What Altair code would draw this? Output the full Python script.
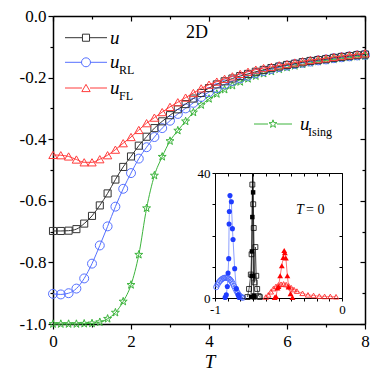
import altair as alt
import pandas as pd

# ---------------- main panel data ----------------
T = [0.0, 0.2, 0.4, 0.6, 0.8, 1.0, 1.2, 1.4, 1.6, 1.8, 2.0, 2.2, 2.4, 2.6, 2.8, 3.0,
     3.2, 3.4, 3.6, 3.8, 4.0, 4.2, 4.4, 4.6, 4.8, 5.0, 5.2, 5.4, 5.6, 5.8, 6.0, 6.2,
     6.4, 6.6, 6.8, 7.0, 7.2, 7.4, 7.6, 7.8, 8.0]
u = [-0.698, -0.698, -0.697, -0.692, -0.674, -0.649, -0.615, -0.576, -0.531, -0.490,
     -0.456, -0.421, -0.392, -0.364, -0.342, -0.322, -0.303, -0.286, -0.268, -0.250,
     -0.234, -0.222, -0.212, -0.203, -0.195, -0.188, -0.181, -0.175, -0.169, -0.164,
     -0.159, -0.155, -0.150, -0.146, -0.143, -0.140, -0.136, -0.133, -0.130, -0.127, -0.125]
u_RL = [-0.902, -0.904, -0.900, -0.885, -0.852, -0.804, -0.745, -0.683, -0.619, -0.561,
        -0.510, -0.463, -0.426, -0.393, -0.364, -0.340, -0.318, -0.300, -0.282, -0.263,
        -0.247, -0.234, -0.222, -0.211, -0.202, -0.194, -0.186, -0.179, -0.172, -0.166,
        -0.161, -0.156, -0.152, -0.148, -0.144, -0.141, -0.137, -0.134, -0.131, -0.128, -0.126]
u_FL = [-0.451, -0.452, -0.456, -0.466, -0.475, -0.475, -0.465, -0.452, -0.434, -0.413,
        -0.393, -0.370, -0.348, -0.330, -0.312, -0.295, -0.280, -0.265, -0.250, -0.235,
        -0.223, -0.213, -0.204, -0.196, -0.188, -0.181, -0.174, -0.169, -0.165, -0.160,
        -0.156, -0.151, -0.147, -0.143, -0.140, -0.137, -0.133, -0.130, -0.127, -0.124, -0.121]
u_Ising = [-1.000, -1.000, -1.000, -1.000, -0.999, -0.998, -0.994, -0.983, -0.963, -0.927,
           -0.873, -0.775, -0.624, -0.518, -0.457, -0.406, -0.372, -0.342, -0.313, -0.289,
           -0.269, -0.253, -0.239, -0.226, -0.214, -0.204, -0.195, -0.187, -0.180, -0.173,
           -0.167, -0.162, -0.157, -0.152, -0.148, -0.144, -0.141, -0.138, -0.135, -0.132, -0.130]

x_ticks = [0, 1, 2, 3, 4, 5, 6, 7, 8]
y_ticks = [-1.0, -0.9, -0.8, -0.7, -0.6, -0.5, -0.4, -0.3, -0.2, -0.1, 0.0]

# ---------------- inset data (P(u) at T = 0) ----------------
bf_x = [-0.92, -0.911, -0.903, -0.897, -0.892, -0.889, -0.887, -0.882, -0.871, -0.863,
        -0.858, -0.845, -0.832, -0.818, -0.81]
bf_y = [0.2, 1.0, 3.7, 8.0, 12.6, 23.7, 27.7, 32.8, 30.8, 22.2, 18.7, 9.4, 3.0, 1.0, 0.2]
bo_x = [-0.99, -0.98, -0.97, -0.96, -0.95, -0.94, -0.93, -0.92, -0.91, -0.90, -0.89,
        -0.88, -0.87, -0.86, -0.85, -0.84, -0.83, -0.82, -0.81, -0.80, -0.79, -0.78]
bo_y = [3.5, 4.3, 5.0, 5.5, 5.9, 6.2, 6.4, 6.5, 6.5, 6.4, 6.2, 5.8, 5.3, 4.6, 3.8, 3.0,
        2.2, 1.5, 0.9, 0.5, 0.2, 0.1]
kf_x = [-0.716, -0.712, -0.709, -0.706, -0.703, -0.700, -0.697, -0.694, -0.690]
kf_y = [0.3, 7.1, 14.9, 25.9, 60.0, 33.8, 7.0, 0.8, 0.2]
ko_x = [-0.745, -0.732, -0.718, -0.712, -0.706, -0.703, -0.699, -0.695, -0.688, -0.682,
        -0.675, -0.668, -0.656, -0.647]
ko_y = [0.3, 2.9, 7.5, 14.0, 36.3, 52.0, 30.0, 22.4, 5.0, 16.3, 7.1, 2.9, 0.6, 0.3]
rf_x = [-0.53, -0.519, -0.508, -0.5, -0.487, -0.474, -0.462, -0.455, -0.45, -0.442,
        -0.43, -0.42, -0.405, -0.39]
rf_y = [0.2, 0.5, 3.2, 3.7, 7.1, 10.3, 13.0, 15.2, 14.5, 12.8, 7.1, 3.5, 1.4, 0.2]
ro_x = [-0.60, -0.58, -0.56, -0.54, -0.52, -0.50, -0.48, -0.46, -0.44, -0.42, -0.40,
        -0.378, -0.355, -0.311, -0.268, -0.224, -0.179, -0.137, -0.092, -0.047]
ro_y = [0.3, 1.0, 2.0, 3.0, 3.7, 4.2, 4.4, 4.5, 4.3, 3.9, 3.3, 2.7, 2.2, 1.5, 1.0, 0.8,
        0.6, 0.5, 0.5, 0.4]
ix_ticks = [-1.0, -0.9, -0.8, -0.7, -0.6, -0.5, -0.4, -0.3, -0.2, -0.1, 0.0]
iy_ticks = [0, 10, 20, 30, 40]

# ---------------- layout / style ----------------
W, H = 312, 308
IX0, IX1, IY0, IY1 = 162, 289, 157, 282
SERIF = "Liberation Serif, Times New Roman, serif"
STAR = ("M0,-1L0.235,-0.324L0.951,-0.309L0.380,0.124L0.588,0.809L0,0.4"
        "L-0.588,0.809L-0.380,0.124L-0.951,-0.309L-0.235,-0.324Z")

xs = alt.Scale(domain=[0, 8], nice=False, zero=False)
ys = alt.Scale(domain=[-1, 0], nice=False, zero=False)
ixs = alt.Scale(domain=[-1, 0], range=[IX0, IX1], nice=False, zero=False)
iys = alt.Scale(domain=[0, 40], range=[IY1, IY0], nice=False, zero=False, clamp=True)

XT = "datum.value % 2 == 0"
YT = "abs(round(datum.value * 10)) % 2 == 0"


def axis(**kw):
    base = dict(grid=False, title=None, domainColor="black", tickColor="black",
                labelColor="black", labelFont=SERIF, labelOverlap=False, labelFlush=False)
    base.update(kw)
    return alt.Axis(**base)


def main_x(labels=True, offset=0):
    return axis(orient="bottom", offset=offset, values=x_ticks, labels=labels,
                labelExpr=f"{XT} ? '' + datum.value : ''", labelFontSize=17, labelPadding=4,
                tickSize={"condition": {"test": XT, "value": 5}, "value": 3},
                domainWidth=1.5, tickWidth=1.2)


def main_y(labels=True, offset=0):
    return axis(orient="left", offset=offset, values=y_ticks, labels=labels,
                labelExpr=f"{YT} ? ((datum.value < 0 ? '-' : '') + format(abs(datum.value), '.1f')) : ''",
                labelFontSize=17, labelPadding=2,
                tickSize={"condition": {"test": YT, "value": 5}, "value": 3},
                domainWidth=1.5, tickWidth=1.2)


def in_x(labels=True, offset=0):
    return axis(orient="bottom", offset=offset, values=ix_ticks, labels=labels,
                labelExpr="datum.value == -1 ? '-1' : (datum.value == 0 ? '0' : '')",
                labelFontSize=13, labelPadding=2, tickSize=3, domainWidth=1, tickWidth=1)


def in_y(labels=True, offset=0):
    return axis(orient="left", offset=offset, values=iy_ticks, labels=labels,
                labelExpr="datum.value == 0 || datum.value == 40 ? '' + datum.value : ''",
                labelFontSize=13, labelPadding=2, tickSize=3, domainWidth=1, tickWidth=1)


MX, MY = main_x(), main_y()
IXA, IYA = in_x(offset=IY1 - H), in_y(offset=-IX0)

one = pd.DataFrame({"a": [0]})

# ---------------- main group ----------------
series = [
    (u_Ising, "#3cb43c", STAR, 70),
    (u_RL, "#5570ff", "circle", 80),
    (u, "#333333", "square", 50),
    (u_FL, "#ff3c3c", "triangle-up", 70),
]
main_layers = []
for vals, col, shp, sz in series:
    df = pd.DataFrame({"T": T, "v": vals})
    enc = dict(x=alt.X("T:Q", scale=xs, axis=MX), y=alt.Y("v:Q", scale=ys, axis=MY))
    main_layers.append(alt.Chart(df).mark_line(color=col, strokeWidth=1, interpolate="monotone").encode(**enc))
    main_layers.append(alt.Chart(df).mark_point(shape=shp, size=sz, filled=False, color=col,
                                                strokeWidth=1, opacity=1).encode(**enc))

# legend entries (annotation positions in pixels)
legend = [
    (21.7, "#333333", "square", 50, "", 12, 29, 37, 54, 33, 57, 66),
    (46.3, "#5570ff", "circle", 80, "RL", 12, 29, 37, 54, 33, 57, 66),
    (72.0, "#ff3c3c", "triangle-up", 70, "FL", 12, 29, 37, 54, 33, 57, 66),
    (108.0, "#3cb43c", STAR, 70, "Ising", 201, 215, 224, 239, 220, 247, 255),
]
for ly, col, shp, sz, sub, a0, a1, b0, b1, mx, tx, sx in legend:
    for s0, s1 in ((a0, a1), (b0, b1)):
        main_layers.append(alt.Chart(one).mark_rule(color=col, strokeWidth=1).encode(
            x=alt.value(s0), x2=alt.value(s1), y=alt.value(ly)))
    main_layers.append(alt.Chart(one).mark_point(shape=shp, size=sz, filled=False, color=col,
                                                 strokeWidth=1, opacity=1).encode(
        x=alt.value(mx), y=alt.value(ly)))
    main_layers.append(alt.Chart(one).mark_text(text="u", font=SERIF, fontStyle="italic", fontSize=19,
                                                align="left", baseline="alphabetic", color="black").encode(
        x=alt.value(tx), y=alt.value(ly + 6)))
    if sub:
        main_layers.append(alt.Chart(one).mark_text(text=sub, font=SERIF, fontSize=12, align="left",
                                                    baseline="alphabetic", color="black").encode(
            x=alt.value(sx), y=alt.value(ly + 12)))

main_layers.append(alt.Chart(one).mark_text(text="2D", font=SERIF, fontSize=18, align="center",
                                            baseline="alphabetic", color="black").encode(
    x=alt.value(144), y=alt.value(22)))
main_layers.append(alt.Chart(one).mark_text(text="T", font=SERIF, fontStyle="italic", fontSize=19,
                                            align="center", baseline="middle", color="black").encode(
    x=alt.value(157), y=alt.value(346)))

main_group = alt.layer(*main_layers)

mirror_df = pd.DataFrame({"T": [0, 8], "v": [-1, 0]})
main_mirror = alt.Chart(mirror_df).mark_point(opacity=0).encode(
    x=alt.X("T:Q", scale=xs, axis=main_x(labels=False, offset=-H)),
    y=alt.Y("v:Q", scale=ys, axis=main_y(labels=False, offset=-W)))

# ---------------- inset group ----------------
inset_series = [
    (bo_x, bo_y, "#6f86ff", "#4a66ff", "circle", 28, False),
    (bf_x, bf_y, "#6f86ff", "#1f3cff", "circle", 26, True),
    (ro_x, ro_y, "#ff7070", "#ff2a2a", "triangle-up", 28, False),
    (rf_x, rf_y, "#ff5050", "#ff0000", "triangle-up", 34, True),
    (ko_x, ko_y, "#333333", "#222222", "square", 24, False),
    (kf_x, kf_y, "#000000", "#000000", "square", 20, True),
]
inset_layers = []
for xv, yv, lc, mc, shp, sz, fil in inset_series:
    df = pd.DataFrame({"x": xv, "y": yv})
    enc = dict(x=alt.X("x:Q", scale=ixs, axis=IXA), y=alt.Y("y:Q", scale=iys, axis=IYA))
    inset_layers.append(alt.Chart(df).mark_line(color=lc, strokeWidth=0.8).encode(**enc))
    inset_layers.append(alt.Chart(df).mark_point(shape=shp, size=sz, filled=fil, color=mc,
                                                 strokeWidth=0.9, opacity=1)
                        .transform_filter("datum.y <= 40").encode(**enc))
inset_layers.append(alt.Chart(one).mark_text(text="T", font=SERIF, fontStyle="italic", fontSize=14,
                                             align="left", baseline="alphabetic", color="black").encode(
    x=alt.value(243), y=alt.value(198)))
inset_layers.append(alt.Chart(one).mark_text(text="= 0", font=SERIF, fontSize=14,
                                             align="left", baseline="alphabetic", color="black").encode(
    x=alt.value(253), y=alt.value(198)))
inset_group = alt.layer(*inset_layers)

imirror_df = pd.DataFrame({"x": [-1, 0], "y": [0, 40]})
inset_mirror = alt.Chart(imirror_df).mark_point(opacity=0).encode(
    x=alt.X("x:Q", scale=ixs, axis=in_x(labels=False, offset=IY0 - H)),
    y=alt.Y("y:Q", scale=iys, axis=in_y(labels=False, offset=-IX1)))

chart = (
    alt.layer(main_group, main_mirror, inset_group, inset_mirror)
    .resolve_scale(x="independent", y="independent")
    .properties(width=W, height=H,
                padding={"left": 45, "top": 8, "right": 9, "bottom": 50},
                autosize=alt.AutoSizeParams(type="none"))
    .configure_view(stroke=None)
    .configure_axis(grid=False, labelFont=SERIF)
)

chart.save("out.html", embed_options={"renderer": "svg", "actions": False})
